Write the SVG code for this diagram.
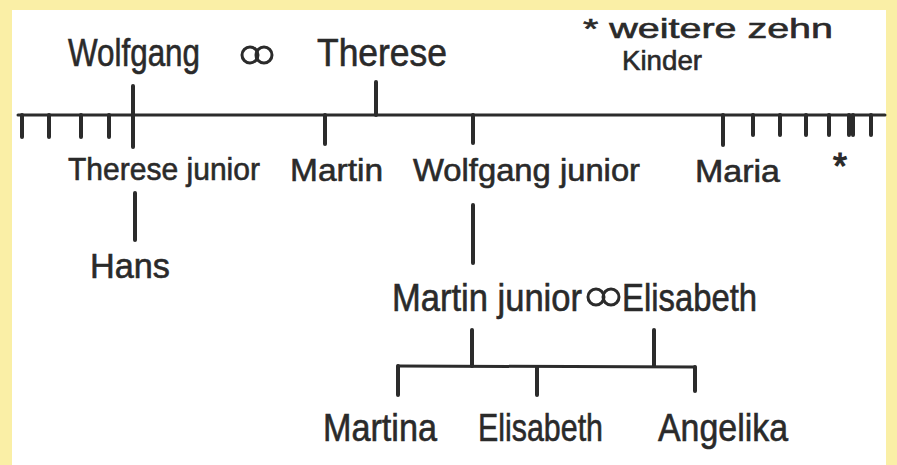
<svg xmlns="http://www.w3.org/2000/svg" width="897" height="465" viewBox="0 0 897 465">
<style>
.t{font-family:"Liberation Sans","DejaVu Sans",sans-serif;fill:#2a2a2a;stroke:#2a2a2a;stroke-width:0.6}
.big{font-size:38px}
.mid{font-size:32px}
.sm{font-size:28px}
.ln{stroke:#2b2b2b;stroke-width:3;stroke-linecap:round;fill:none}
.st{stroke:#2b2b2b;stroke-width:4;stroke-linecap:round;fill:none}
.ring{stroke:#2b2b2b;stroke-width:3;fill:none}
</style>
<rect x="0" y="0" width="897" height="465" fill="#faefa6"/>
<rect x="12" y="10" width="874" height="455" fill="#ffffff"/>
<g id="connectors">
<line class="ln" x1="18" y1="115" x2="885" y2="115"/>
<line class="st" x1="133" y1="86" x2="133" y2="147"/>
<line class="st" x1="376" y1="82" x2="376" y2="115"/>
<line class="st" x1="22" y1="115" x2="22" y2="137"/>
<line class="st" x1="49" y1="115" x2="49" y2="137"/>
<line class="st" x1="81" y1="115" x2="81" y2="137"/>
<line class="st" x1="109" y1="115" x2="109" y2="137"/>
<line class="st" x1="325" y1="115" x2="325" y2="144"/>
<line class="st" x1="473" y1="115" x2="473" y2="143"/>
<line class="st" x1="723" y1="115" x2="723" y2="145"/>
<line class="st" x1="753" y1="115" x2="753" y2="135"/>
<line class="st" x1="780" y1="115" x2="780" y2="135"/>
<line class="st" x1="806" y1="115" x2="806" y2="135"/>
<line class="st" x1="829" y1="115" x2="829" y2="135"/>
<line class="st" x1="849" y1="115" x2="849" y2="135"/>
<line class="st" x1="853" y1="115" x2="853" y2="135"/>
<line class="st" x1="871" y1="115" x2="871" y2="135"/>
<line class="st" x1="135" y1="193" x2="135" y2="240"/>
<line class="st" x1="473" y1="205" x2="473" y2="263"/>
<line class="st" x1="472" y1="330" x2="472" y2="366"/>
<line class="st" x1="654" y1="330" x2="654" y2="366"/>
<line class="ln" x1="398" y1="366" x2="695" y2="367"/>
<line class="st" x1="398" y1="366" x2="398" y2="395"/>
<line class="st" x1="537" y1="367" x2="537" y2="395"/>
<line class="st" x1="695" y1="367" x2="695" y2="391"/>
</g>
<g id="wolfgang"><text class="t big" x="68" y="66" textLength="132" lengthAdjust="spacingAndGlyphs">Wolfgang</text></g>
<g id="marriage1"><circle class="ring" cx="250" cy="55" r="8"/><circle class="ring" cx="264" cy="55" r="8"/></g>
<g id="therese"><text class="t big" x="317" y="66" textLength="130" lengthAdjust="spacingAndGlyphs">Therese</text></g>
<g id="legend">
<text class="t sm" x="583" y="38" textLength="250" lengthAdjust="spacingAndGlyphs">* weitere zehn</text>
<text class="t sm" x="622" y="70" textLength="80" lengthAdjust="spacingAndGlyphs">Kinder</text>
</g>
<g id="therese-junior"><text class="t mid" x="68" y="180" textLength="192" lengthAdjust="spacingAndGlyphs">Therese junior</text></g>
<g id="martin"><text class="t mid" x="290" y="181" textLength="93" lengthAdjust="spacingAndGlyphs">Martin</text></g>
<g id="wolfgang-junior"><text class="t mid" x="413" y="181" textLength="227" lengthAdjust="spacingAndGlyphs">Wolfgang junior</text></g>
<g id="maria"><text class="t mid" x="695" y="182" textLength="85" lengthAdjust="spacingAndGlyphs">Maria</text></g>
<g id="others"><text class="t" style="font-size:36px;stroke-width:1.2" x="833" y="179">*</text></g>
<g id="hans"><text class="t" style="font-size:35px" x="90" y="278" textLength="80" lengthAdjust="spacingAndGlyphs">Hans</text></g>
<g id="martin-junior"><text class="t big" x="392" y="311" textLength="190" lengthAdjust="spacingAndGlyphs">Martin junior</text></g>
<g id="marriage2"><circle class="ring" cx="596" cy="297" r="8"/><circle class="ring" cx="611" cy="297" r="8"/></g>
<g id="elisabeth"><text class="t big" x="622" y="311" textLength="135" lengthAdjust="spacingAndGlyphs">Elisabeth</text></g>
<g id="martina"><text class="t big" x="323" y="441" textLength="114" lengthAdjust="spacingAndGlyphs">Martina</text></g>
<g id="elisabeth-child"><text class="t big" x="478" y="441" textLength="125" lengthAdjust="spacingAndGlyphs">Elisabeth</text></g>
<g id="angelika"><text class="t big" x="658" y="441" textLength="130" lengthAdjust="spacingAndGlyphs">Angelika</text></g>
</svg>
